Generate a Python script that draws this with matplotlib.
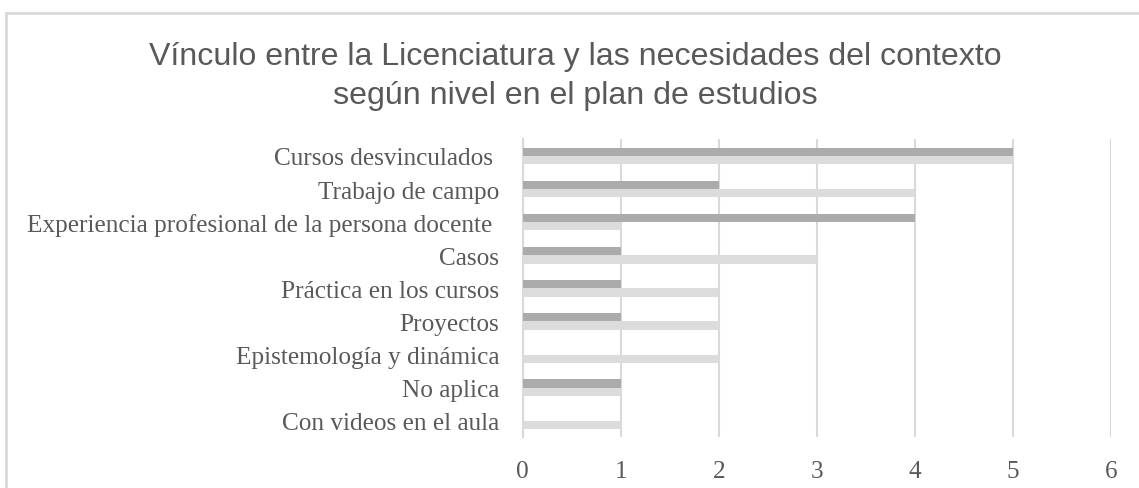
import matplotlib
matplotlib.use("Agg")
import matplotlib.pyplot as plt
from matplotlib.patches import Rectangle
import numpy as np

categories = ["Cursos desvinculados ", "Trabajo de campo",
              "Experiencia profesional de la persona docente ", "Casos",
              "Práctica en los cursos", "Proyectos", "Epistemología y dinámica",
              "No aplica", "Con videos en el aula"]
serie_oscura = [5, 2, 4, 1, 1, 1, 0, 1, 0]
serie_clara = [5, 4, 1, 3, 2, 2, 2, 1, 1]
xticks = [0, 1, 2, 3, 4, 5, 6]
titulo_1 = "Vínculo entre la Licenciatura y las necesidades del contexto"
titulo_2 = "según nivel en el plan de estudios"

W, H = 1139, 489
fig = plt.figure(figsize=(W / 100, H / 100), dpi=100)

# chart area border (cropped at right/bottom)
fig.patches.append(Rectangle((6 / W, -0.05), 1.1, (H - 14) / H + 0.05,
                             transform=fig.transFigure, fill=False,
                             edgecolor="#d9d9d9", linewidth=2, zorder=0))

ax = fig.add_axes([522.7 / W, 0.1036, 588.3 / W, 0.6092])
n = len(categories)
y = np.arange(n)
h = 0.25
ax.barh(y - h / 2, serie_oscura, height=h, color="#ababab", zorder=3)
ax.barh(y + h / 2, serie_clara, height=h, color="#dcdcdc", zorder=3)
ax.set_ylim(n - 0.5, -0.5)
ax.set_xlim(0, 6)
ax.set_xticks(xticks)
ax.set_yticks(y)
ax.set_yticklabels(categories)
ax.xaxis.grid(True, color="#d9d9d9", linewidth=1.5, zorder=0)
ax.set_axisbelow(True)
for s in ["top", "right", "bottom"]:
    ax.spines[s].set_visible(False)
ax.spines["left"].set_color("#d9d9d9")
ax.spines["left"].set_linewidth(1.5)
ax.tick_params(axis="both", length=0, labelcolor="#595959", labelsize=18.2)
ax.tick_params(axis="y", pad=17)
ax.tick_params(axis="x", pad=16)
for lab in ax.get_xticklabels() + ax.get_yticklabels():
    lab.set_fontfamily("Liberation Serif")

fig.text(575 / W, 1 - 65 / H, titulo_1, ha="center", va="baseline",
         fontsize=23.1, color="#595959", family="Liberation Sans")
fig.text(575 / W, 1 - 104 / H, titulo_2, ha="center", va="baseline",
         fontsize=23.1, color="#595959", family="Liberation Sans")

fig.savefig("out.png", dpi=100)
